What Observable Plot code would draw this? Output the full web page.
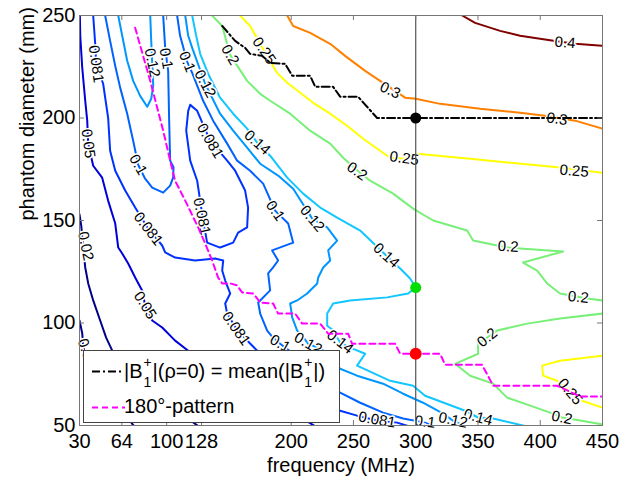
<!DOCTYPE html>
<html>
<head>
<meta charset="utf-8">
<script src="https://cdn.jsdelivr.net/npm/d3@7"></script>
<script src="https://cdn.jsdelivr.net/npm/@observablehq/plot@0.6"></script>
<style>
  body { margin: 0; background: #fff; }
  #wrap { position: relative; width: 642px; height: 481px; font-family: "Liberation Sans", Arial, sans-serif; }
  #legend { position: absolute; left: 83px; top: 350px; width: 257px; height: 73px; background: #fff;
            border: 1px solid #444; box-sizing: border-box; font-size: 20px; color: #000; }
  #legend .row { position: absolute; left: 40px; line-height: 1; white-space: nowrap; }
  #legend .ss { position: relative; display: inline-block; width: 10px; height: 0; }
  #legend .sp, #legend .sb { position: absolute; left: 1px; font-size: 14px; line-height: 1; }
  #legend .sp { top: -23px; }
  #legend .sb { top: -3px; }
</style>
</head>
<body>
<div id="wrap"></div>
<script>
// ---- axes ----
const xTicks = [30, 64, 100, 128, 200, 250, 300, 350, 400, 450];
const yTicks = [50, 100, 150, 200, 250];

// ---- contour levels and colours ----
const levels = [0.02, 0.05, 0.081, 0.1, 0.12, 0.14, 0.2, 0.25, 0.3, 0.4];
const levelColors = ["#000088", "#0000d8", "#0032ff", "#0062ff", "#0096ff", "#12c6ff", "#78f078", "#ffff00", "#ff8000", "#800000"];

// ---- contour lines: [frequency MHz, diameter mm] ----
const c040 = [[337.3,250],[347.7,246.4],[367.8,242.5],[383.8,240.1],[411.9,237.6],[428.0,236.2],[450,235.2]];
const c030 = [[196.8,250],[201.6,244.9],[215.2,241.5],[231.3,236.2],[243.3,230.3],[259.4,223.0],[271.4,218.1],[291.5,209.9],[300,209.4],[319.6,206.9],[351.7,204.5],[383.8,202.6],[403.9,201.1],[428.0,198.7],[450,194.8]];
const c025a = [[159.0,250],[167.0,244.9],[178.3,232.8],[188.7,222.0],[196.8,217.2],[207.2,212.3],[217.7,207.4],[231.3,202.1],[244.9,196.2],[257.8,189.9],[271.4,184.0],[279.5,180.6],[290.7,180.1],[301.1,182.6],[343.7,180.1],[415.9,175.8],[450,173.3]];
const c025b = [[450,84.0],[415.9,81.6],[401.5,79.2],[402.3,74.3],[413.5,71.8],[424.0,66.0],[433.7,62.1],[450,58.7]];
const c020a = [[136.5,250],[144.6,244.9],[151.0,230.8],[164.6,218.1],[175.1,211.8],[183.1,208.4],[199.2,202.1],[215.2,193.8],[231.3,187.5],[241.7,180.6],[252.9,174.5],[263.4,169.4],[281.9,163.1],[297.9,155.8],[314.0,150.0],[341.3,145.1],[346.1,140.2],[365.4,137.8],[374.2,136.8],[383.8,136.3],[418.4,134.9],[386.2,129.5],[397.5,125.6],[405.5,119.3],[415.9,114.4],[437.7,112.0],[450,111.0]];
const c020b = [[450,104.6],[415.9,102.2],[389.5,99.7],[365.4,96.3],[357.4,92.9],[350.1,90.0],[350.1,85.0],[331.6,80.1],[343.7,74.3],[362.2,70.4],[373.4,63.6],[391.9,59.7],[407.9,56.3],[417.5,53.9],[432.1,52.4],[450,50.5]];
const c014 = [[120.5,250],[123.7,240.1],[126.9,231.3],[133.3,221.6],[142.9,209.9],[153.4,202.1],[164.6,194.8],[172.7,188.0],[183.1,181.6],[196.8,170.9],[209.6,163.1],[223.3,156.3],[236.9,151.4],[255.4,145.1],[276.3,132.9],[287.5,126.6],[295.5,121.7],[300,117.3],[293.9,114.4],[277.1,112.5],[247.3,111.0],[233.7,109.5],[228.9,104.6],[228.9,98.7],[232.9,96.8],[239.3,90.5],[247.3,88.0],[259.4,85.0],[252.9,79.2],[279.5,71.8],[297.9,69.4],[307.5,64.5],[339.7,57.2],[350.1,53.9],[362.2,53.4],[389.5,49.5]];
const c012a = [[61.1,250],[64.3,240.1],[68.3,227.9],[73.1,218.1],[78.7,210.8],[84.4,205.5],[87.6,209.4],[89.2,215.7],[88.4,226.9],[87.6,237.6],[86.8,250]];
const c012b = [[114.9,250],[117.3,240.1],[120.5,234.2],[130.9,216.7],[136.5,209.9],[142.9,202.1],[153.4,193.8],[164.6,185.5],[175.1,177.7],[189.5,171.9],[201.6,165.5],[216.9,150.9],[228.9,146.6],[236.9,140.2],[229.7,135.4],[231.3,130.5],[225.7,127.1],[221.7,122.2],[220.9,119.3],[212.8,114.4],[204.8,111.0],[199.2,109.5],[200.8,102.7],[204.8,96.3],[208.8,93.8],[213.6,89.9],[224.9,87.0],[239.3,77.7],[252.9,74.3],[273.8,70.4],[289.9,65.5],[305.9,61.1],[322.0,55.8],[330.0,52.4],[341.3,49.0]];
const c010a = [[50.6,250],[54.6,237.6],[58.7,225.4],[62.7,214.7],[68.3,202.1],[73.1,188.9],[77.1,177.2],[82.7,170.4],[88.4,166.0],[97.2,163.6],[102.8,167.0],[105.2,170.9],[105.5,176.0],[102.8,179.2],[102.0,198.7],[101.2,223.0],[98.8,234.2],[97.2,250]];
const c010b = [[108.4,250],[110.8,240.1],[116.5,227.4],[120.5,222.0],[129.3,208.4],[137.3,198.7],[148.6,187.5],[156.6,179.2],[167.0,174.3],[177.5,168.0],[187.1,154.8],[197.6,148.5],[201.6,139.2],[184.7,135.4],[189.5,130.5],[185.5,127.1],[181.5,124.2],[183.1,115.9],[173.5,110.0],[175.1,104.6],[180.7,96.3],[184.7,93.4],[191.1,89.9],[200.8,85.5],[239.3,66.0],[255.4,61.1],[273.8,56.3],[289.9,53.4],[307.5,51.4],[317.2,49.0]];
const c081a = [[41.0,250],[42.6,236.2],[43.4,226.4],[49.0,216.7],[53.0,200.1],[54.6,184.0],[58.7,174.3],[66.7,164.6],[74.7,156.3],[85.2,146.0],[96.4,137.8],[98.8,134.4],[106.8,131.9],[122.9,130.5],[138.9,131.5],[145.4,130.5],[144.6,125.6],[147.0,120.7],[151.0,114.4],[147.0,109.5],[148.6,104.6],[155.8,97.3],[167.0,90.0],[172.7,86.5],[207.2,71.8],[239.3,57.2],[252.9,54.8],[269.0,52.4],[285.1,51.4],[297.9,49.0]];
const c081b = [[118.9,206.4],[117.3,203.5],[115.7,193.8],[118.9,179.2],[124.5,169.4],[126.9,159.7],[129.3,150.0],[132.5,139.2],[142.9,136.8],[153.4,139.2],[157.4,144.1],[164.6,146.6],[165.4,156.3],[163.0,164.6],[155.0,174.3],[148.6,179.2],[134.9,188.9],[124.5,203.5],[118.9,206.4]];
const c050 = [[30.3,250],[30.6,240.1],[32.2,224.5],[34.6,208.4],[36.2,198.7],[37.0,187.5],[41.0,176.7],[48.2,170.9],[53.0,159.7],[58.7,148.5],[61.1,136.8],[64.3,133.9],[69.1,129.0],[74.7,122.2],[80.3,115.9],[82.7,108.6],[88.4,101.2],[96.4,97.8],[106.8,91.4],[117.3,86.5],[159.0,69.4],[199.2,57.2],[220.9,49.0]];
const c002a = [[30,153],[31.4,147.5],[33.0,136.3],[34.6,127.1],[37.0,119.3],[41.0,111.0],[46.6,101.2],[51.4,92.9],[56.3,86.5],[86.8,67.0],[126.9,49.0]];
const c002b = [[30,101.2],[32.2,95.0],[33.0,88.6],[34.6,84.0],[54.6,64.5],[74.7,49.0]];

const contours = [
  [0.4, c040], [0.3, c030], [0.25, c025a], [0.25, c025b], [0.2, c020a], [0.2, c020b],
  [0.14, c014], [0.12, c012a], [0.12, c012b], [0.1, c010a], [0.1, c010b],
  [0.081, c081a], [0.081, c081b], [0.05, c050], [0.02, c002a], [0.02, c002b]
];

// ---- inline contour labels: [text, frequency, diameter, rotation] ----
const contourLabels = [
  ["0.4", 420.0, 236.8, 5],
  ["0.3", 279.5, 213.5, 25], ["0.3", 413.5, 199.6, 8],
  ["0.25", 178.3, 232.8, 55], ["0.25", 290.7, 180.3, 8], ["0.25", 427.2, 174.2, 5], ["0.25", 424.0, 66.5, 50],
  ["0.2", 151.0, 230.8, 60], ["0.2", 252.9, 174.0, 35], ["0.2", 374.2, 137.3, 3], ["0.2", 430.6, 112.6, 5], ["0.2", 357.4, 92.9, -40], ["0.2", 417.5, 53.8, 12],
  ["0.14", 172.7, 188.0, 42], ["0.14", 276.3, 132.9, 42], ["0.14", 239.3, 90.8, 38], ["0.14", 350.1, 54.0, 15],
  ["0.12", 88.4, 226.9, 78], ["0.12", 130.9, 216.7, 62], ["0.12", 216.9, 150.9, 50], ["0.12", 213.6, 90.0, 30], ["0.12", 330.0, 52.6, 12],
  ["0.1", 77.1, 177.2, 60], ["0.1", 99.6, 229.0, 80], ["0.1", 116.5, 227.4, 68], ["0.1", 187.1, 154.8, 55], ["0.1", 191.1, 90.0, 30], ["0.1", 307.5, 51.8, 8],
  ["0.081", 43.4, 226.4, 82], ["0.081", 85.2, 146.0, 52], ["0.081", 155.8, 97.3, 55], ["0.081", 269.0, 52.8, 10],
  ["0.081", 134.9, 188.9, 60], ["0.081", 128.3, 152.0, 78],
  ["0.05", 37.0, 187.5, 82], ["0.05", 82.7, 108.6, 58],
  ["0.02", 35.0, 137.5, 78], ["0.02", 36.0, 85.5, 70]
];

// ---- |B1+|(rho=0) = mean(|B1+|) curve ----
const meanFreq = [144.6, 155.0, 163.0, 167.0, 176.7, 183.1, 195.2, 200.8, 215.2, 219.3, 233.7, 239.3, 253.7, 269.0, 450];
const meanDiam = [244.9, 237.6, 234.2, 231.3, 230.3, 226.9, 226.4, 220.6, 220.6, 215.2, 215.2, 210.4, 210.4, 200, 200];

// ---- 180 degree pattern curve ----
const patFreq = [74.7, 86.8, 97.2, 102.8, 106.8, 114.9, 125.3, 130.9, 136.5, 141.3, 144.6, 151.0, 156.6, 160.6, 169.5, 175.1, 185.5, 189.5, 203.2, 208.8, 223.3, 229.7, 245.7, 248.9, 283.5, 287.5, 319.6, 323.6, 353.3, 362.2, 413.5, 432.1, 450];
const patDiam = [244.0, 218.1, 193.8, 179.2, 169.4, 159.7, 146.6, 138.8, 130.5, 122.2, 119.3, 119.3, 118.3, 114.9, 114.4, 110.0, 109.5, 104.6, 104.6, 99.7, 99.7, 94.8, 94.8, 89.9, 89.9, 85.0, 85.0, 79.6, 79.6, 69.4, 69.4, 64.1, 64.1];

// ---- marked points at 300 MHz ----
const markFreq = [300, 300, 300];
const markDiam = [200, 117.3, 85.0];
const markColor = ["#000000", "#00dd00", "#ff0000"];
const markR = [5.5, 5.5, 6];

// ---- build tables ----
const contourRows = contours.flatMap(([lv, pts], i) => pts.map(([x, y]) => ({id: i, level: lv, x, y})));
const meanRows = meanFreq.map((x, i) => ({x, y: meanDiam[i]}));
const patRows = patFreq.map((x, i) => ({x, y: patDiam[i]}));

const frameH = 481 - 15 - 56;
const frameW = 642 - 79 - 40;
const axisColor = "#777";

const chart = Plot.plot({
  width: 642,
  height: 481,
  marginLeft: 79,
  marginRight: 40,
  marginTop: 15,
  marginBottom: 56,
  x: {domain: [30, 450]},
  y: {domain: [50, 250]},
  color: {type: "ordinal", domain: levels, range: levelColors},
  style: {fontFamily: '"Liberation Sans", Arial, sans-serif', background: "white", color: "black"},
  marks: [
    Plot.line(contourRows, {x: "x", y: "y", z: "id", stroke: "level", strokeWidth: 2, clip: true}),
    Plot.text(contourLabels, {x: d => d[1], y: d => d[2], text: d => d[0], rotate: d => d[3],
      fontSize: 15, fill: "black", stroke: "white", strokeWidth: 3, paintOrder: "stroke"}),
    Plot.line(meanRows, {x: "x", y: "y", stroke: "black", strokeWidth: 2, strokeDasharray: "8,3,2,3", clip: true}),
    Plot.line(patRows, {x: "x", y: "y", stroke: "#ff00ff", strokeWidth: 2, strokeDasharray: "6,4", clip: true}),
    Plot.ruleX([300], {stroke: "#555", strokeWidth: 1.2}),
    ...markFreq.map((x, i) => Plot.dot([{x, y: markDiam[i]}], {x: "x", y: "y", r: markR[i], fill: markColor[i]})),
    Plot.frame({stroke: axisColor}),
    Plot.tickX(xTicks, {x: d => d, insetTop: frameH - 5, stroke: axisColor}),
    Plot.tickX(xTicks, {x: d => d, insetBottom: frameH - 5, stroke: axisColor}),
    Plot.tickY(yTicks, {y: d => d, insetRight: frameW - 5, stroke: axisColor}),
    Plot.tickY(yTicks, {y: d => d, insetLeft: frameW - 5, stroke: axisColor}),
    Plot.axisX(xTicks, {tickSize: 0, tickPadding: 8, fontSize: 20, label: null}),
    Plot.axisY(yTicks, {tickSize: 0, tickPadding: 4, fontSize: 20, label: null}),
    Plot.text(["frequency (MHz)"], {frameAnchor: "bottom", dy: 46, fontSize: 20, text: d => d}),
    Plot.text(["phantom diameter (mm)"], {frameAnchor: "left", dx: -52, rotate: -90, fontSize: 20, text: d => d})
  ]
});

const wrap = document.getElementById("wrap");
wrap.appendChild(chart);

const legend = document.createElement("div");
legend.id = "legend";
legend.innerHTML =
  '<svg width="40" height="71" style="position:absolute;left:8px;top:0">' +
  '<line x1="0" x2="31" y1="20.5" y2="20.5" stroke="black" stroke-width="2" stroke-dasharray="8,3,2,3"/>' +
  '<line x1="0" x2="33" y1="56.5" y2="56.5" stroke="#ff00ff" stroke-width="2" stroke-dasharray="6,4"/>' +
  '</svg>' +
  '<div class="row" style="top:10px">|B<span class="ss"><span class="sp">+</span><span class="sb">1</span></span>|(ρ=0) = mean(|B<span class="ss"><span class="sp">+</span><span class="sb">1</span></span>|)</div>' +
  '<div class="row" style="top:45px">180°-pattern</div>';
wrap.appendChild(legend);
</script>
</body>
</html>
